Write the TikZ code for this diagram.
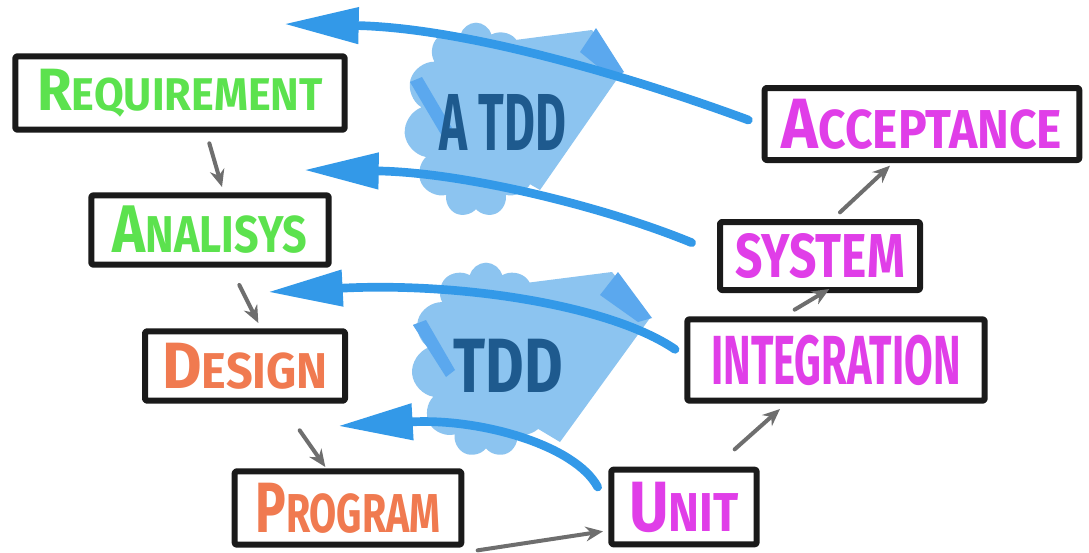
\documentclass[tikz,border=0pt]{standalone}
\usepackage{fontspec}
\usepackage{graphicx}
\setsansfont{Fira Sans}
\usetikzlibrary{arrows.meta,shapes.symbols}
\definecolor{txtgreen}{HTML}{5CE24E}
\definecolor{txtorange}{HTML}{F07A50}
\definecolor{txtmagenta}{HTML}{E03EE8}
\definecolor{arrowblue}{HTML}{3399E8}
\definecolor{cloudblue}{HTML}{8CC4F0}
\definecolor{folddark}{HTML}{5BA8EE}
\definecolor{txtdark}{HTML}{1E5A8E}
\definecolor{arrowgrey}{HTML}{6E6E6E}
\definecolor{boxline}{HTML}{1A1A1A}
\newcommand\bigfirst[2]{{\fontsize{13}{13}\selectfont #1}{\fontsize{10}{10}\selectfont #2}}
\tikzset{
  stepbox/.style={draw=boxline, line width=4.5pt, line join=round, rounded corners=1.5pt, fill=white, inner sep=0pt},
  bluearrow/.style={draw=arrowblue, line width=6.5pt, line cap=round, -{Triangle[length=56pt,width=26pt]}},
  greyarrow/.style={draw=arrowgrey, line width=3pt, line cap=round, -{Stealth[length=13pt,width=11pt]}},
  cloudbg/.style={cloud, cloud puffs=11, cloud ignores aspect, fill=cloudblue, draw=none},
  lbl/.style={font=\sffamily\bfseries},
}
\begin{document}
\begin{tikzpicture}[x=0.75pt,y=-0.75pt]
\fill[white] (0,0) rectangle (1089,553);
\useasboundingbox (0,0) rectangle (1089,553);

% clouds (ATDD)
\node[cloudbg, minimum width=108pt, minimum height=146pt] (cloudA) at (476,120) {};
\fill[cloudblue] (410,82) -- (500,42) -- (592,30) -- (622,72) -- (540,190) -- (445,135) -- cycle;
\fill[folddark] (580,52) -- (596,28) -- (624,72) -- (612,78) -- cycle;
\fill[folddark] (410,82) -- (422,77) -- (452,128) -- (442,136) -- cycle;
\node[lbl, text=txtdark] (atdd) at (503,122) {\resizebox{95pt}{42pt}{A TDD}};

% clouds (TDD)
\node[cloudbg, minimum width=112pt, minimum height=146pt] (cloudT) at (486,360) {};
\fill[cloudblue] (413,325) -- (510,285) -- (612,272) -- (650,318) -- (560,442) -- (448,375) -- cycle;
\fill[folddark] (600,295) -- (618,272) -- (652,318) -- (638,322) -- cycle;
\fill[folddark] (413,325) -- (426,320) -- (455,370) -- (446,377) -- cycle;
\node[lbl, text=txtdark] (tdd) at (508,366) {\resizebox{82pt}{40pt}{TDD}};

% boxes
\node[stepbox, minimum width=247pt, minimum height=55pt, text=txtgreen] (req) at (180,93)
  {\resizebox{214pt}{31pt}{\sffamily\bfseries\bigfirst{R}{EQUIREMENT}}};
\node[stepbox, minimum width=178pt, minimum height=52pt, text=txtgreen] (ana) at (210,230)
  {\resizebox{146pt}{35pt}{\sffamily\bfseries\bigfirst{A}{NALISYS}}};
\node[stepbox, minimum width=150pt, minimum height=52pt, text=txtorange] (des) at (245,366)
  {\resizebox{124pt}{34pt}{\sffamily\bfseries\bigfirst{D}{ESIGN}}};
\node[stepbox, minimum width=170pt, minimum height=55pt, text=txtorange] (pro) at (348,508)
  {\resizebox{139pt}{37pt}{\sffamily\bfseries\bigfirst{P}{ROGRAM}}};
\node[stepbox, minimum width=109pt, minimum height=56pt, text=txtmagenta] (uni) at (684,507)
  {\resizebox{82pt}{37pt}{\sffamily\bfseries\bigfirst{U}{NIT}}};
\node[stepbox, minimum width=223pt, minimum height=61pt, text=txtmagenta] (int) at (836,360)
  {\resizebox{187pt}{37pt}{\sffamily\bfseries INTEGRATION}};
\node[stepbox, minimum width=150pt, minimum height=51pt, text=txtmagenta] (sys) at (820,256)
  {\resizebox{127pt}{33pt}{\sffamily\bfseries SYSTEM}};
\node[stepbox, minimum width=236pt, minimum height=54pt, text=txtmagenta] (acc) at (922,124)
  {\resizebox{210pt}{37pt}{\sffamily\bfseries\bigfirst{A}{CCEPTANCE}}};

% blue feedback arrows
\coordinate (t1) at ([shift={(-10pt,3pt)}]acc.west);
\coordinate (h1) at (284,24);
\draw[bluearrow] (t1) .. controls (640,80) and (470,28) .. (h1);
\coordinate (t2) at ([shift={(-19pt,10pt)}]sys.west);
\coordinate (h2) at (304,170);
\draw[bluearrow] (t2) .. controls (600,205) and (460,172) .. (h2);
\coordinate (t3) at ([shift={(-7pt,8pt)}]int.west);
\coordinate (h3) at (268,292);
\draw[bluearrow] (t3) .. controls (610,305) and (460,282) .. (h3);
\coordinate (t4) at ([shift={(-8pt,15pt)}]uni.west);
\coordinate (h4) at (338,426);
\draw[bluearrow] (t4) .. controls (575,445) and (480,418) .. (h4);

% grey flow arrows
\draw[greyarrow] ([shift={(22pt,-8pt)}]req.south) -- ([shift={(9pt,4pt)}]ana.north);
\draw[greyarrow] ([shift={(22pt,-13pt)}]ana.south) -- ([shift={(10pt,4pt)}]des.north);
\draw[greyarrow] ([shift={(41pt,-20pt)}]des.south) -- ([shift={(-17pt,1pt)}]pro.north);
\draw[greyarrow] ([shift={(10pt,-2pt)}]pro.south east) -- ([shift={(-4pt,12pt)}]uni.south west);
\draw[greyarrow] ([shift={(38pt,13pt)}]uni.north) -- ([shift={(-42pt,-4pt)}]int.south);
\draw[greyarrow] ([shift={(-31pt,5pt)}]int.north) -- ([shift={(7pt,3pt)}]sys.south);
\draw[greyarrow] ([shift={(15pt,5pt)}]sys.north) -- ([shift={(-24pt,-2pt)}]acc.south);
\end{tikzpicture}
\end{document}
